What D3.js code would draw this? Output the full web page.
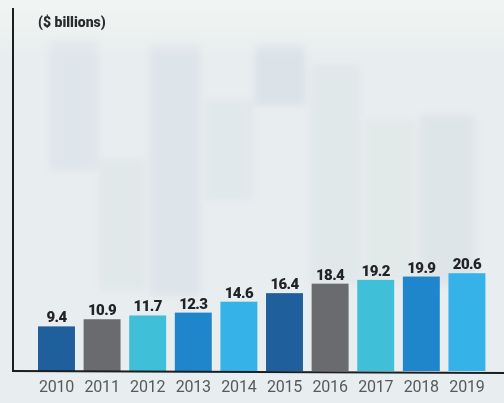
<!DOCTYPE html>
<html>
<head>
<meta charset="utf-8">
<script src="https://cdn.jsdelivr.net/npm/d3@7"></script>
<style>
  html, body { margin: 0; padding: 0; background: #e9eef0; }
  svg { display: block; }
</style>
</head>
<body>
<svg id="chart" width="504" height="403"></svg>
<script>
// Annual totals, in billions of dollars
const years = ["2010", "2011", "2012", "2013", "2014", "2015", "2016", "2017", "2018", "2019"];
const values = [9.4, 10.9, 11.7, 12.3, 14.6, 16.4, 18.4, 19.2, 19.9, 20.6];
const barColors = ["#1f5f9c", "#6a6b6e", "#3fbfd8", "#1f86cc", "#35b3e8",
                   "#1f5f9c", "#6a6b6e", "#3fbfd8", "#1f86cc", "#35b3e8"];
const unitLabel = "($ billions)";

const W = 504, H = 403;
const svg = d3.select("#chart");

// pale backdrop with a soft tiled texture
const defs = svg.append("defs");
defs.append("filter").attr("id", "soft")
  .attr("x", "-20%").attr("y", "-20%").attr("width", "140%").attr("height", "140%")
  .append("feGaussianBlur").attr("stdDeviation", 3);
const topFade = defs.append("linearGradient").attr("id", "topFade")
  .attr("x1", 0).attr("y1", 0).attr("x2", 0).attr("y2", 1);
topFade.append("stop").attr("offset", 0).attr("stop-color", "#f1f5f2").attr("stop-opacity", 0.95);
topFade.append("stop").attr("offset", 1).attr("stop-color", "#f1f5f2").attr("stop-opacity", 0);

const bg = svg.append("g");
bg.append("rect").attr("width", W).attr("height", H).attr("fill", "#e8edef");
const tileCols = [
  { x: 50, y: 40, w: 48, h: 130, c: "#d2dce6" },
  { x: 150, y: 45, w: 50, h: 250, c: "#d0d9e4" },
  { x: 255, y: 45, w: 50, h: 60, c: "#ccd6e2" },
  { x: 205, y: 100, w: 48, h: 100, c: "#d8e3e6" },
  { x: 310, y: 65, w: 50, h: 220, c: "#d9e3e4" },
  { x: 420, y: 115, w: 55, h: 170, c: "#d2dbe3" },
  { x: 100, y: 160, w: 45, h: 130, c: "#d8e3e2" },
  { x: 365, y: 120, w: 50, h: 160, c: "#dbe5e2" }
];
const tiles = bg.append("g").attr("filter", "url(#soft)");
tiles.selectAll("rect").data(tileCols).join("rect")
  .attr("x", d => d.x).attr("y", d => d.y)
  .attr("width", d => d.w).attr("height", d => d.h)
  .attr("fill", d => d.c).attr("opacity", 0.45);
bg.append("rect").attr("x", 0).attr("y", 0).attr("width", W).attr("height", 60)
  .attr("fill", "url(#topFade)");

const x = d3.scaleBand().domain(years).range([38, 485.4]).paddingInner(0.19).paddingOuter(0);
const y = d3.scaleLinear().domain([0, 75]).range([371, 15]);

// bars
svg.append("g").selectAll("rect").data(values).join("rect")
  .attr("x", (d, i) => x(years[i]))
  .attr("y", d => y(d))
  .attr("width", x.bandwidth())
  .attr("height", d => y(0) - y(d))
  .attr("fill", (d, i) => barColors[i]);

// value labels
svg.append("g").selectAll("text").data(values).join("text")
  .attr("x", (d, i) => x(years[i]) + x.bandwidth() / 2)
  .attr("y", d => y(d) - 4)
  .attr("text-anchor", "middle")
  .attr("font-family", "Roboto, sans-serif")
  .attr("font-weight", 900)
  .attr("font-size", 15)
  .attr("letter-spacing", -0.6)
  .attr("fill", "#222326")
  .text(d => d.toFixed(1));

// x axis with year labels
const xAxis = svg.append("g")
  .attr("transform", `translate(0,${y(0)})`)
  .call(d3.axisBottom(x).tickSize(0).tickPadding(10));
xAxis.select(".domain").remove();
xAxis.selectAll("text")
  .attr("font-family", "Roboto, sans-serif")
  .attr("font-size", 16)
  .attr("fill", "#57595d")
  .attr("letter-spacing", -0.2);

// axis lines
svg.append("line")
  .attr("x1", 12).attr("x2", W).attr("y1", y(0)).attr("y2", y(0) + 2)
  .attr("stroke", "#1c1d1f").attr("stroke-width", 2);
svg.append("line")
  .attr("x1", 13).attr("x2", 13).attr("y1", 8).attr("y2", y(0) + 1)
  .attr("stroke", "#1c1d1f").attr("stroke-width", 2);

// unit label
svg.append("text")
  .attr("x", 38).attr("y", 27)
  .attr("font-family", "Roboto, sans-serif")
  .attr("font-weight", 900)
  .attr("font-size", 14)
  .attr("fill", "#2a2b2e")
  .text(unitLabel);
</script>
</body>
</html>
